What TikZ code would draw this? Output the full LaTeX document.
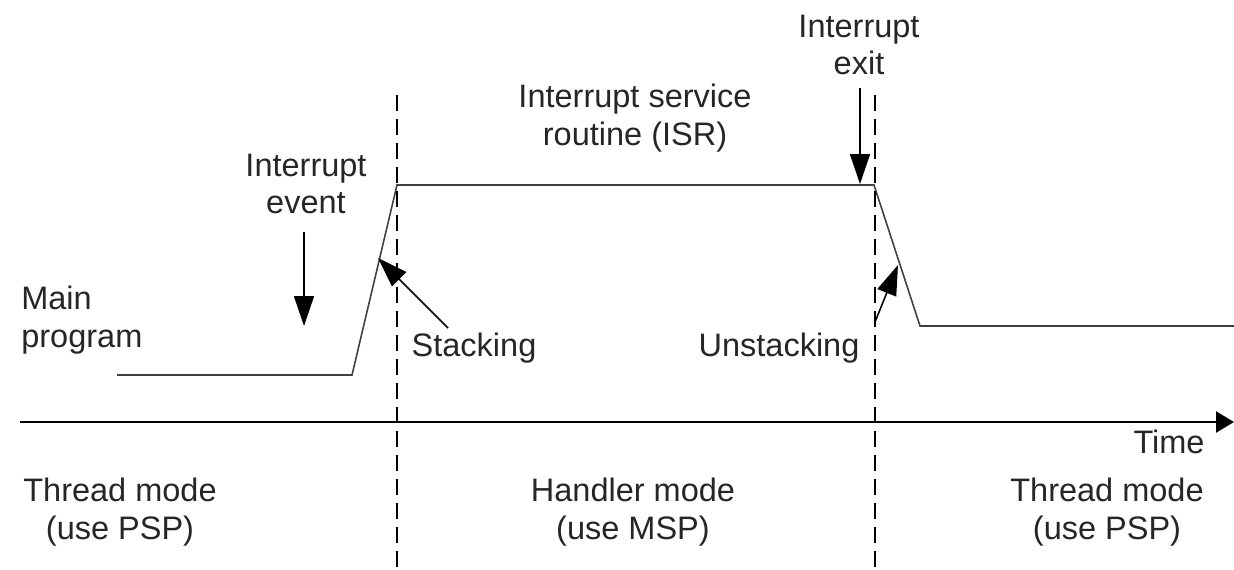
\documentclass[tikz,border=0pt]{standalone}
\usepackage{fontspec}
\setmainfont{Liberation Sans}
\usetikzlibrary{arrows.meta}

\begin{document}
\begin{tikzpicture}[
    x=0.02cm, y=-0.02cm,
    font=\fontsize{18.5}{21.5}\selectfont,
    lbl/.style={inner sep=0pt, align=center, text=black!85},
    signal/.style={line width=0.9pt, color=black!75},
    border/.style={line width=1.1pt, dash pattern=on 0.32cm off 0.16cm},
    pointer/.style={-{Triangle[length=0.6cm, width=0.4cm]}, line width=0.9pt},
    axis/.style={-{Triangle[length=0.36cm, width=0.42cm]}, line width=1.3pt}
  ]
  \useasboundingbox (0,0) rectangle (1234,569);

  % processor state over time
  \coordinate (s0) at (117,375);
  \coordinate (s1) at (352,375);
  \coordinate (s2) at (397,185);
  \coordinate (s3) at (874,185);
  \coordinate (s4) at (920,326);
  \coordinate (s5) at (1234,326);
  \draw[signal] (s0) -- (s1) -- (s2) -- (s3) -- (s4) -- (s5);

  % mode borders and time axis
  \coordinate (b1top) at (397,95);
  \coordinate (b1bot) at (397,569);
  \coordinate (b2top) at (875,95);
  \coordinate (b2bot) at (875,569);
  \draw[border] (b1top) -- (b1bot);
  \draw[border] (b2top) -- (b2bot);
  \coordinate (t0) at (20,422);
  \coordinate (t1) at (1234,422);
  \draw[axis] (t0) -- (t1);

  % labels
  \node[lbl, anchor=west, align=left] (mainprog) at (21,320) {Main\\program};
  \node[lbl] (evt) at (306,184) {Interrupt\\event};
  \node[lbl] (isr) at (635,118) {Interrupt service\\routine (ISR)};
  \node[lbl] (exitlbl) at (859,45) {Interrupt\\exit};
  \node[lbl] (stk) at (474,348) {Stacking};
  \node[lbl] (unstk) at (779,348) {Unstacking};
  \node[lbl] (timelbl) at (1169,442) {Time};
  \node[lbl] (thrL) at (120,512) {Thread mode\\(use PSP)};
  \node[lbl] (hnd) at (633,512) {Handler mode\\(use MSP)};
  \node[lbl] (thrR) at (1107,512) {Thread mode\\(use PSP)};

  % pointers
  \coordinate (e1) at (304,232);
  \coordinate (e2) at (304,326);
  \draw[pointer] (e1) -- (e2);
  \coordinate (k1) at (448,328);
  \coordinate (k2) at (378,258);
  \draw[pointer] (k1) -- (k2);
  \coordinate (x1) at (860,88);
  \coordinate (x2) at (860,184);
  \draw[pointer] (x1) -- (x2);
  \coordinate (u1) at (875,322);
  \coordinate (u2) at (898,265);
  \draw[pointer] (u1) -- (u2);
\end{tikzpicture}
\end{document}
